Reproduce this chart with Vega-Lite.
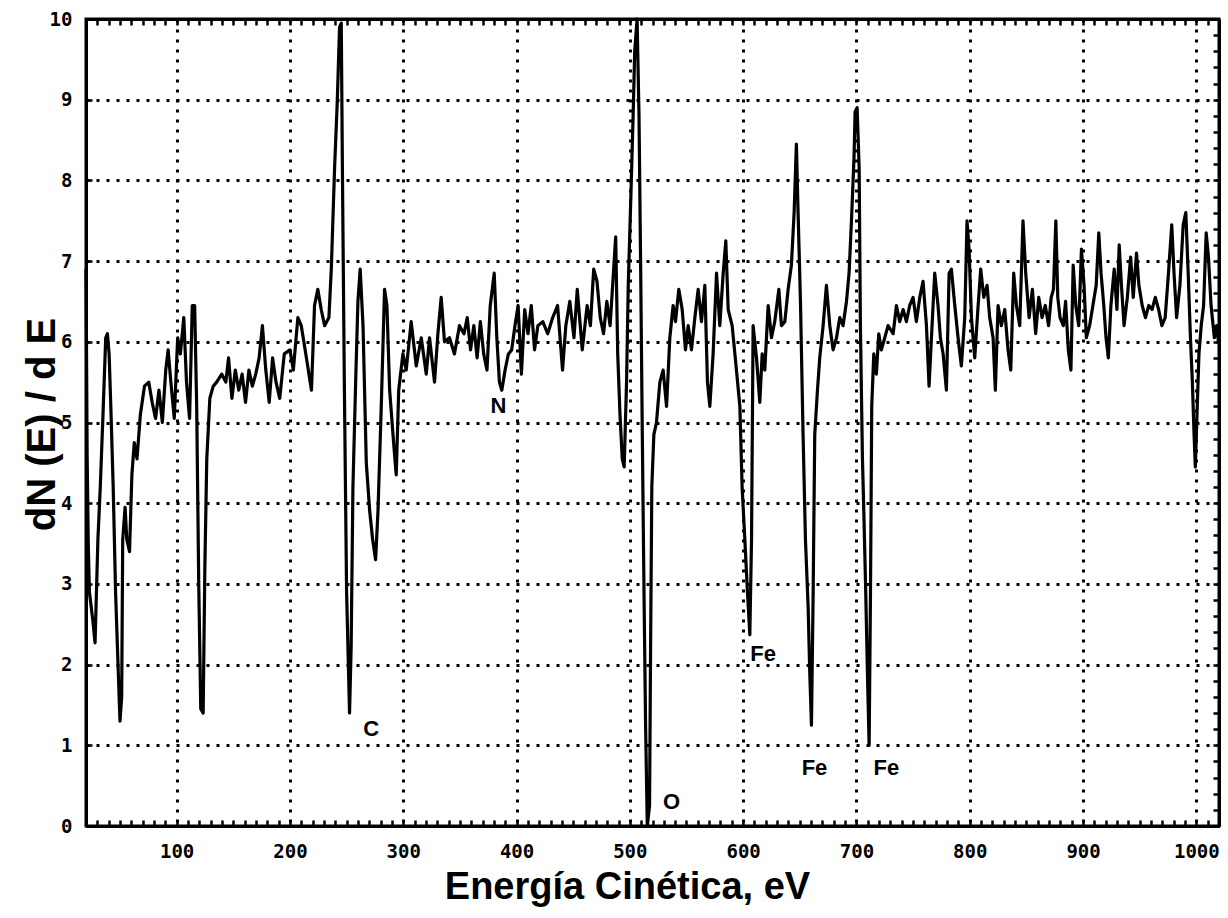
{
  "$schema": "https://vega.github.io/schema/vega-lite/v6.json",
  "width": 1133,
  "height": 807,
  "autosize": {"type": "none"},
  "padding": {"left": 86, "top": 19, "right": 9, "bottom": 92},
  "background": "white",
  "config": {"view": {"stroke": "black", "strokeWidth": 3}},
  "datasets": {
    "spectrum": [
      {"E": 20, "dNdE": 6.9}, {"E": 20.5, "dNdE": 5.8}, {"E": 21, "dNdE": 4.6}, {"E": 22, "dNdE": 3.5}, {"E": 23, "dNdE": 2.9},
      {"E": 26, "dNdE": 2.55}, {"E": 28, "dNdE": 2.27}, {"E": 30.5, "dNdE": 3.55}, {"E": 32.6, "dNdE": 4.2}, {"E": 35, "dNdE": 5.1},
      {"E": 37.4, "dNdE": 6.05}, {"E": 38.9, "dNdE": 6.1}, {"E": 40.4, "dNdE": 5.85}, {"E": 41.9, "dNdE": 5.2}, {"E": 44, "dNdE": 4.2},
      {"E": 46.1, "dNdE": 2.9}, {"E": 48.5, "dNdE": 1.9}, {"E": 50, "dNdE": 1.3}, {"E": 51.5, "dNdE": 1.6}, {"E": 52.4, "dNdE": 3.55},
      {"E": 54.5, "dNdE": 3.95}, {"E": 56, "dNdE": 3.55}, {"E": 58.4, "dNdE": 3.4}, {"E": 60.5, "dNdE": 4.35}, {"E": 62.6, "dNdE": 4.75},
      {"E": 65, "dNdE": 4.55}, {"E": 68, "dNdE": 5.1}, {"E": 71.6, "dNdE": 5.45}, {"E": 75.4, "dNdE": 5.5}, {"E": 78.4, "dNdE": 5.25},
      {"E": 81.4, "dNdE": 5.05}, {"E": 84.4, "dNdE": 5.4}, {"E": 87.4, "dNdE": 5.0}, {"E": 90.4, "dNdE": 5.65}, {"E": 92.5, "dNdE": 5.9},
      {"E": 94.9, "dNdE": 5.5}, {"E": 97.9, "dNdE": 5.05}, {"E": 100.9, "dNdE": 6.05}, {"E": 103.3, "dNdE": 5.85}, {"E": 106.3, "dNdE": 6.3},
      {"E": 108.7, "dNdE": 5.5}, {"E": 111.4, "dNdE": 5.05}, {"E": 113.8, "dNdE": 6.45}, {"E": 115.9, "dNdE": 6.45}, {"E": 117.7, "dNdE": 5.2},
      {"E": 119.5, "dNdE": 3.0}, {"E": 121.3, "dNdE": 1.45}, {"E": 123.4, "dNdE": 1.4}, {"E": 124.9, "dNdE": 3.2}, {"E": 126.6, "dNdE": 4.55},
      {"E": 129.3, "dNdE": 5.3}, {"E": 132.3, "dNdE": 5.45}, {"E": 135.3, "dNdE": 5.5}, {"E": 139.8, "dNdE": 5.6}, {"E": 143.4, "dNdE": 5.5},
      {"E": 145.8, "dNdE": 5.8}, {"E": 148.8, "dNdE": 5.3}, {"E": 151.8, "dNdE": 5.65}, {"E": 154.8, "dNdE": 5.4}, {"E": 157.8, "dNdE": 5.6},
      {"E": 160.8, "dNdE": 5.25}, {"E": 163.8, "dNdE": 5.65}, {"E": 166.8, "dNdE": 5.45}, {"E": 169.8, "dNdE": 5.6}, {"E": 172.8, "dNdE": 5.8},
      {"E": 175.7, "dNdE": 6.2}, {"E": 178.7, "dNdE": 5.65}, {"E": 181.7, "dNdE": 5.25}, {"E": 184.7, "dNdE": 5.8}, {"E": 187.7, "dNdE": 5.5},
      {"E": 191, "dNdE": 5.3}, {"E": 195, "dNdE": 5.85}, {"E": 200, "dNdE": 5.9}, {"E": 203, "dNdE": 5.65}, {"E": 207, "dNdE": 6.3},
      {"E": 210, "dNdE": 6.2}, {"E": 214, "dNdE": 5.85}, {"E": 219, "dNdE": 5.4}, {"E": 221.7, "dNdE": 6.45}, {"E": 224.6, "dNdE": 6.65},
      {"E": 227.6, "dNdE": 6.4}, {"E": 230.6, "dNdE": 6.2}, {"E": 234.4, "dNdE": 6.3}, {"E": 236.5, "dNdE": 6.9}, {"E": 239.4, "dNdE": 8.15},
      {"E": 241.7, "dNdE": 8.95}, {"E": 243.8, "dNdE": 9.9}, {"E": 245.3, "dNdE": 9.95}, {"E": 246.3, "dNdE": 8.15}, {"E": 248, "dNdE": 5.5},
      {"E": 250, "dNdE": 2.9}, {"E": 252.6, "dNdE": 1.4}, {"E": 254, "dNdE": 2.2}, {"E": 255.6, "dNdE": 4.2}, {"E": 258, "dNdE": 5.5},
      {"E": 260, "dNdE": 6.5}, {"E": 262, "dNdE": 6.9}, {"E": 264.5, "dNdE": 6.2}, {"E": 267.4, "dNdE": 4.5}, {"E": 270.4, "dNdE": 3.9},
      {"E": 273, "dNdE": 3.55}, {"E": 275.6, "dNdE": 3.3}, {"E": 277.7, "dNdE": 3.9}, {"E": 280.6, "dNdE": 5.2}, {"E": 283.5, "dNdE": 6.65},
      {"E": 285.6, "dNdE": 6.45}, {"E": 288, "dNdE": 5.4}, {"E": 291.5, "dNdE": 4.75}, {"E": 293.8, "dNdE": 4.35}, {"E": 296, "dNdE": 5.4},
      {"E": 299.7, "dNdE": 5.85}, {"E": 302.6, "dNdE": 5.65}, {"E": 307, "dNdE": 6.25}, {"E": 311.5, "dNdE": 5.7}, {"E": 315.9, "dNdE": 6.05},
      {"E": 320.3, "dNdE": 5.6}, {"E": 323.2, "dNdE": 6.05}, {"E": 327.6, "dNdE": 5.5}, {"E": 330.6, "dNdE": 6.1}, {"E": 333.5, "dNdE": 6.55},
      {"E": 336.4, "dNdE": 6.0}, {"E": 340.8, "dNdE": 6.05}, {"E": 345.2, "dNdE": 5.85}, {"E": 349.6, "dNdE": 6.2}, {"E": 353.6, "dNdE": 6.1},
      {"E": 356.5, "dNdE": 6.3}, {"E": 359.4, "dNdE": 5.9}, {"E": 362.3, "dNdE": 6.2}, {"E": 365.2, "dNdE": 5.8}, {"E": 368.1, "dNdE": 6.25},
      {"E": 371, "dNdE": 5.85}, {"E": 373.9, "dNdE": 5.65}, {"E": 376.8, "dNdE": 6.45}, {"E": 380.3, "dNdE": 6.85}, {"E": 382.6, "dNdE": 6.05},
      {"E": 384.9, "dNdE": 5.5}, {"E": 387, "dNdE": 5.4}, {"E": 389.9, "dNdE": 5.65}, {"E": 392.8, "dNdE": 5.85}, {"E": 395.7, "dNdE": 5.9},
      {"E": 398.6, "dNdE": 6.2}, {"E": 401.4, "dNdE": 6.45}, {"E": 404.3, "dNdE": 5.6}, {"E": 407.2, "dNdE": 6.4}, {"E": 410.1, "dNdE": 6.1},
      {"E": 413, "dNdE": 6.45}, {"E": 415.9, "dNdE": 5.9}, {"E": 418.8, "dNdE": 6.2}, {"E": 423.2, "dNdE": 6.25}, {"E": 427.5, "dNdE": 6.1},
      {"E": 431.9, "dNdE": 6.3}, {"E": 436.2, "dNdE": 6.45}, {"E": 440.6, "dNdE": 5.65}, {"E": 443.5, "dNdE": 6.2}, {"E": 447, "dNdE": 6.5},
      {"E": 450.7, "dNdE": 6.05}, {"E": 453.6, "dNdE": 6.65}, {"E": 458, "dNdE": 5.9}, {"E": 462.3, "dNdE": 6.45}, {"E": 465.2, "dNdE": 6.2},
      {"E": 468.1, "dNdE": 6.9}, {"E": 471, "dNdE": 6.75}, {"E": 473.9, "dNdE": 6.3}, {"E": 476.8, "dNdE": 6.1}, {"E": 479.7, "dNdE": 6.5},
      {"E": 482.6, "dNdE": 6.2}, {"E": 485.5, "dNdE": 6.85}, {"E": 487.5, "dNdE": 7.3}, {"E": 489.3, "dNdE": 5.85}, {"E": 491.3, "dNdE": 5.1},
      {"E": 493.3, "dNdE": 4.55}, {"E": 495, "dNdE": 4.45}, {"E": 497.1, "dNdE": 5.5}, {"E": 498.6, "dNdE": 6.7}, {"E": 500.9, "dNdE": 7.8},
      {"E": 502.9, "dNdE": 8.8}, {"E": 504.3, "dNdE": 9.6}, {"E": 506.4, "dNdE": 10.0}, {"E": 508.1, "dNdE": 8.8}, {"E": 509.6, "dNdE": 6.85},
      {"E": 511, "dNdE": 4.85}, {"E": 512.5, "dNdE": 2.9}, {"E": 513.9, "dNdE": 1.25}, {"E": 515.4, "dNdE": 0.0}, {"E": 517.4, "dNdE": 0.25},
      {"E": 518.3, "dNdE": 2.2}, {"E": 519.4, "dNdE": 4.2}, {"E": 521.2, "dNdE": 4.85}, {"E": 523.5, "dNdE": 5.0}, {"E": 526.5, "dNdE": 5.5},
      {"E": 529.4, "dNdE": 5.65}, {"E": 532.4, "dNdE": 5.2}, {"E": 535.3, "dNdE": 6.05}, {"E": 538.2, "dNdE": 6.45}, {"E": 540.3, "dNdE": 6.25},
      {"E": 543.2, "dNdE": 6.65}, {"E": 546.2, "dNdE": 6.4}, {"E": 549.1, "dNdE": 5.9}, {"E": 551.5, "dNdE": 6.2}, {"E": 554.4, "dNdE": 5.9},
      {"E": 557.4, "dNdE": 6.3}, {"E": 560.3, "dNdE": 6.65}, {"E": 563.2, "dNdE": 6.25}, {"E": 566.2, "dNdE": 6.7}, {"E": 568.5, "dNdE": 5.5},
      {"E": 570.6, "dNdE": 5.2}, {"E": 573.5, "dNdE": 5.85}, {"E": 576.5, "dNdE": 6.85}, {"E": 579.4, "dNdE": 6.2}, {"E": 582.4, "dNdE": 6.85},
      {"E": 584.7, "dNdE": 7.25}, {"E": 586.8, "dNdE": 6.4}, {"E": 590.3, "dNdE": 6.2}, {"E": 594.1, "dNdE": 5.65}, {"E": 597.1, "dNdE": 5.2},
      {"E": 599.1, "dNdE": 4.2}, {"E": 601.5, "dNdE": 3.55}, {"E": 603.8, "dNdE": 2.9}, {"E": 605.9, "dNdE": 2.37}, {"E": 607.4, "dNdE": 3.55},
      {"E": 608.8, "dNdE": 6.2}, {"E": 611.8, "dNdE": 5.8}, {"E": 614.7, "dNdE": 5.25}, {"E": 616.8, "dNdE": 5.85}, {"E": 619.1, "dNdE": 5.65},
      {"E": 622.1, "dNdE": 6.45}, {"E": 625, "dNdE": 6.05}, {"E": 627.9, "dNdE": 6.25}, {"E": 631.5, "dNdE": 6.65}, {"E": 633.8, "dNdE": 6.2},
      {"E": 636.8, "dNdE": 6.25}, {"E": 639.7, "dNdE": 6.65}, {"E": 642.6, "dNdE": 6.95}, {"E": 645, "dNdE": 7.6}, {"E": 647, "dNdE": 8.45},
      {"E": 648.5, "dNdE": 7.6}, {"E": 650.6, "dNdE": 6.5}, {"E": 652.9, "dNdE": 4.85}, {"E": 655, "dNdE": 3.55}, {"E": 657.4, "dNdE": 2.7},
      {"E": 658.8, "dNdE": 1.9}, {"E": 660.3, "dNdE": 1.25}, {"E": 661.8, "dNdE": 2.9}, {"E": 663.2, "dNdE": 4.85}, {"E": 665.6, "dNdE": 5.4},
      {"E": 667.6, "dNdE": 5.8}, {"E": 670.6, "dNdE": 6.2}, {"E": 673.5, "dNdE": 6.7}, {"E": 676.5, "dNdE": 6.2}, {"E": 679.4, "dNdE": 5.9},
      {"E": 682.4, "dNdE": 6.05}, {"E": 685.3, "dNdE": 6.3}, {"E": 688.2, "dNdE": 6.2}, {"E": 691.2, "dNdE": 6.5}, {"E": 693.5, "dNdE": 6.85},
      {"E": 695.6, "dNdE": 7.5}, {"E": 697.9, "dNdE": 8.3}, {"E": 698.8, "dNdE": 8.85}, {"E": 700.6, "dNdE": 8.9}, {"E": 702.4, "dNdE": 8.15},
      {"E": 703.5, "dNdE": 6.2}, {"E": 705.3, "dNdE": 4.55}, {"E": 706.5, "dNdE": 3.9}, {"E": 708.2, "dNdE": 2.9}, {"E": 709.7, "dNdE": 1.9},
      {"E": 711.2, "dNdE": 1.0}, {"E": 712.4, "dNdE": 2.9}, {"E": 713.5, "dNdE": 5.2}, {"E": 715.3, "dNdE": 5.85}, {"E": 717.6, "dNdE": 5.6},
      {"E": 719.7, "dNdE": 6.1}, {"E": 722, "dNdE": 5.9}, {"E": 725, "dNdE": 6.05}, {"E": 727.9, "dNdE": 6.2}, {"E": 732.4, "dNdE": 6.1},
      {"E": 735.3, "dNdE": 6.45}, {"E": 738.2, "dNdE": 6.25}, {"E": 741.2, "dNdE": 6.4}, {"E": 744.1, "dNdE": 6.25}, {"E": 747, "dNdE": 6.45},
      {"E": 750, "dNdE": 6.55}, {"E": 752.9, "dNdE": 6.25}, {"E": 755.9, "dNdE": 6.55}, {"E": 758.8, "dNdE": 6.75}, {"E": 761.8, "dNdE": 6.2},
      {"E": 764.1, "dNdE": 5.45}, {"E": 766.2, "dNdE": 6.05}, {"E": 769.1, "dNdE": 6.85}, {"E": 772, "dNdE": 6.45}, {"E": 774.1, "dNdE": 6.05},
      {"E": 776.5, "dNdE": 5.85}, {"E": 779.4, "dNdE": 5.4}, {"E": 781.8, "dNdE": 6.85}, {"E": 783.8, "dNdE": 6.9}, {"E": 786.8, "dNdE": 6.45},
      {"E": 789.7, "dNdE": 6.05}, {"E": 792.6, "dNdE": 5.7}, {"E": 795.6, "dNdE": 6.3}, {"E": 797.6, "dNdE": 7.5}, {"E": 799.4, "dNdE": 7.15},
      {"E": 801.5, "dNdE": 6.3}, {"E": 804.4, "dNdE": 5.8}, {"E": 807.4, "dNdE": 6.45}, {"E": 809.7, "dNdE": 6.9}, {"E": 812.4, "dNdE": 6.55},
      {"E": 815.3, "dNdE": 6.7}, {"E": 817.6, "dNdE": 6.3}, {"E": 820.6, "dNdE": 6.05}, {"E": 822.6, "dNdE": 5.4}, {"E": 825, "dNdE": 6.45},
      {"E": 827.9, "dNdE": 6.2}, {"E": 830.9, "dNdE": 6.4}, {"E": 833.8, "dNdE": 5.9}, {"E": 836.2, "dNdE": 5.65}, {"E": 838.8, "dNdE": 6.85},
      {"E": 841.2, "dNdE": 6.45}, {"E": 844.1, "dNdE": 6.2}, {"E": 847, "dNdE": 7.5}, {"E": 849.4, "dNdE": 6.85}, {"E": 852.4, "dNdE": 6.3},
      {"E": 855.3, "dNdE": 6.65}, {"E": 858.2, "dNdE": 6.1}, {"E": 860.9, "dNdE": 6.55}, {"E": 863.8, "dNdE": 6.3}, {"E": 866.7, "dNdE": 6.45},
      {"E": 869.6, "dNdE": 6.2}, {"E": 871.9, "dNdE": 6.55}, {"E": 873.9, "dNdE": 6.65}, {"E": 876, "dNdE": 7.5}, {"E": 877.7, "dNdE": 6.55},
      {"E": 879.7, "dNdE": 6.3}, {"E": 882.6, "dNdE": 6.2}, {"E": 884.6, "dNdE": 6.5}, {"E": 887, "dNdE": 5.9}, {"E": 889.3, "dNdE": 5.65},
      {"E": 891.3, "dNdE": 6.95}, {"E": 893.6, "dNdE": 6.45}, {"E": 896.2, "dNdE": 6.2}, {"E": 898.6, "dNdE": 7.15}, {"E": 900.9, "dNdE": 6.7},
      {"E": 902.9, "dNdE": 6.05}, {"E": 905.8, "dNdE": 6.2}, {"E": 908.7, "dNdE": 6.45}, {"E": 911.6, "dNdE": 6.7}, {"E": 913.9, "dNdE": 7.35},
      {"E": 915.9, "dNdE": 6.85}, {"E": 918.3, "dNdE": 6.45}, {"E": 920.3, "dNdE": 6.05}, {"E": 922.3, "dNdE": 5.8}, {"E": 924.6, "dNdE": 6.45},
      {"E": 927.5, "dNdE": 6.9}, {"E": 929.9, "dNdE": 6.4}, {"E": 931.9, "dNdE": 7.2}, {"E": 933.9, "dNdE": 6.7}, {"E": 936.2, "dNdE": 6.2},
      {"E": 939.1, "dNdE": 6.55}, {"E": 942, "dNdE": 7.05}, {"E": 944.3, "dNdE": 6.55}, {"E": 947.2, "dNdE": 7.1}, {"E": 949.3, "dNdE": 6.7},
      {"E": 952.2, "dNdE": 6.45}, {"E": 955.1, "dNdE": 6.3}, {"E": 958, "dNdE": 6.45}, {"E": 960.9, "dNdE": 6.4}, {"E": 963.8, "dNdE": 6.55},
      {"E": 966.7, "dNdE": 6.4}, {"E": 969.6, "dNdE": 6.2}, {"E": 972.5, "dNdE": 6.3}, {"E": 975.4, "dNdE": 6.85}, {"E": 978.3, "dNdE": 7.45},
      {"E": 980.3, "dNdE": 6.85}, {"E": 982.6, "dNdE": 6.3}, {"E": 985.5, "dNdE": 6.7}, {"E": 988.4, "dNdE": 7.45}, {"E": 990.7, "dNdE": 7.6},
      {"E": 992.8, "dNdE": 6.85}, {"E": 994.8, "dNdE": 6.05}, {"E": 996.5, "dNdE": 5.5}, {"E": 998, "dNdE": 4.85}, {"E": 999.1, "dNdE": 4.45},
      {"E": 1000.6, "dNdE": 5.1}, {"E": 1002.3, "dNdE": 5.85}, {"E": 1004.3, "dNdE": 6.2}, {"E": 1006.4, "dNdE": 6.45}, {"E": 1008.7, "dNdE": 7.35},
      {"E": 1010.7, "dNdE": 7.05}, {"E": 1013, "dNdE": 6.45}, {"E": 1015.9, "dNdE": 6.05}, {"E": 1018, "dNdE": 6.2}, {"E": 1019.5, "dNdE": 6.0}
    ],
    "labels": [
      {"E": 271.6, "v": 1.2, "t": "C"},
      {"E": 384, "v": 5.2, "t": "N"},
      {"E": 536.8, "v": 0.3, "t": "O"},
      {"E": 617.6, "v": 2.13, "t": "Fe"},
      {"E": 663, "v": 0.72, "t": "Fe"},
      {"E": 726.5, "v": 0.72, "t": "Fe"}
    ]
  },
  "layer": [
    {
      "data": {"name": "spectrum"},
      "mark": {"type": "line", "color": "black", "strokeWidth": 3.2, "strokeJoin": "round"},
      "encoding": {
        "x": {
          "field": "E", "type": "quantitative",
          "scale": {"domain": [20, 1020], "nice": false, "zero": false},
          "axis": {
            "orient": "bottom", "title": "Energía Cinética, eV", "tickCount": 100, "format": "d",
            "labelExpr": "datum.value % 100 === 0 ? datum.label : ''",
            "labelOverlap": false, "labelFlush": false, "labelBound": false,
            "labelFont": "DejaVu Sans Mono", "labelFontWeight": "bold", "labelFontSize": 19, "labelColor": "black",
            "labelPadding": 22,
            "domain": true, "domainColor": "black", "domainWidth": 3,
            "ticks": true, "tickSize": -6, "tickWidth": 2.5, "tickColor": "black",
            "grid": true, "gridColor": "black", "gridWidth": 3, "gridDash": [3, 7],
            "gridOpacity": {"condition": {"test": "datum.value % 100 === 0", "value": 1}, "value": 0},
            "titleFont": "Liberation Sans", "titleFontWeight": "bold", "titleFontSize": 38, "titleColor": "black",
            "titleAnchor": "start", "titleAlign": "center", "titleX": 541, "titleY": 72, "titleBaseline": "alphabetic"
          }
        },
        "y": {
          "field": "dNdE", "type": "quantitative",
          "scale": {"domain": [0, 10], "nice": false},
          "axis": {
            "orient": "left", "title": "dN (E) / d E", "tickCount": 50, "format": "d",
            "labelExpr": "datum.value % 1 === 0 ? format(datum.value, 'd') : ''",
            "labelOverlap": false, "labelFlush": false, "labelBound": false,
            "labelFont": "DejaVu Sans Mono", "labelFontWeight": "bold", "labelFontSize": 19, "labelColor": "black",
            "labelPadding": 20,
            "domain": true, "domainColor": "black", "domainWidth": 3,
            "ticks": true, "tickSize": -6, "tickWidth": 2.5, "tickColor": "black",
            "grid": true, "gridColor": "black", "gridWidth": 3, "gridDash": [3, 7],
            "gridOpacity": {"condition": {"test": "datum.value % 1 === 0 && datum.value > 0 && datum.value < 10", "value": 1}, "value": 0},
            "titleFont": "Liberation Sans", "titleFontWeight": "bold", "titleFontSize": 40, "titleColor": "black",
            "titleAnchor": "start", "titleAngle": 270, "titleAlign": "center", "titleBaseline": "alphabetic",
            "titleX": -32, "titleY": 405
          }
        }
      }
    },
    {
      "data": {"name": "labels"},
      "mark": {"type": "text", "font": "Liberation Sans", "fontWeight": "bold", "fontSize": 22, "color": "black", "align": "center", "baseline": "middle"},
      "encoding": {
        "x": {
          "field": "E", "type": "quantitative",
          "axis": {"orient": "top", "title": null, "tickCount": 100, "labels": false, "grid": false,
            "domain": true, "domainColor": "black", "domainWidth": 3,
            "ticks": true, "tickSize": -6, "tickWidth": 2.5, "tickColor": "black"}
        },
        "y": {
          "field": "v", "type": "quantitative",
          "axis": {"orient": "right", "title": null, "tickCount": 50, "labels": false, "grid": false,
            "domain": true, "domainColor": "black", "domainWidth": 3,
            "ticks": true, "tickSize": -6, "tickWidth": 2.5, "tickColor": "black"}
        },
        "text": {"field": "t", "type": "nominal"}
      }
    }
  ],
  "resolve": {"axis": {"x": "independent", "y": "independent"}}
}
